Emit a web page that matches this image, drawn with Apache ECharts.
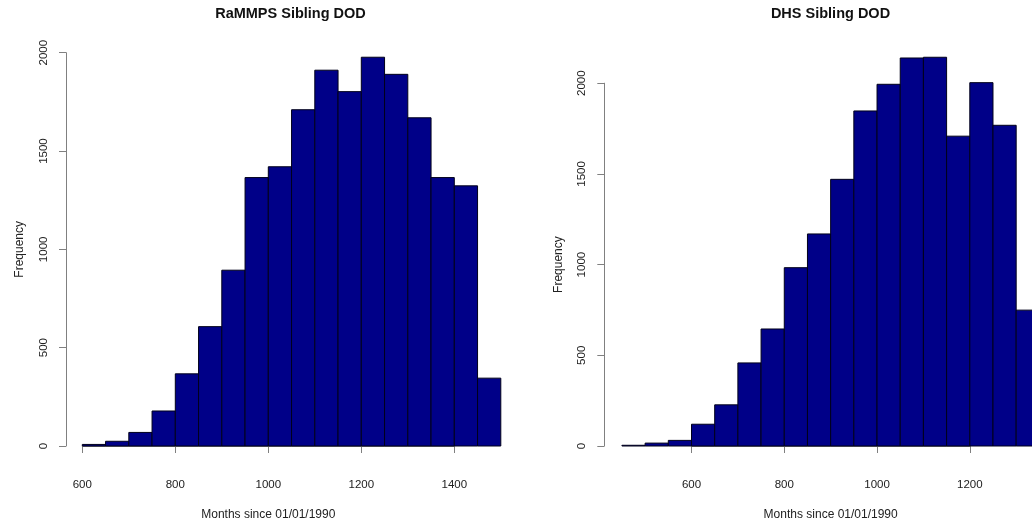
<!DOCTYPE html>
<html>
<head>
<meta charset="utf-8">
<script src="https://cdn.jsdelivr.net/npm/echarts@6/dist/echarts.min.js"></script>
<style>
html,body{margin:0;padding:0;background:#fff;}
#chart{width:1032px;height:526px;}
</style>
</head>
<body>
<div id="chart"></div>
<script>
// ---- data ----
const leftTitle = "RaMMPS Sibling DOD";
const rightTitle = "DHS Sibling DOD";
const xAxisLabel = "Months since 01/01/1990";
const yAxisLabel = "Frequency";

// bin breaks (lower edges), bin width 50
const leftBinStart = [600,650,700,750,800,850,900,950,1000,1050,1100,1150,1200,1250,1300,1350,1400,1450];
const leftCounts   = [8,24,69,178,367,607,894,1365,1420,1710,1911,1802,1977,1890,1669,1365,1323,345];

const rightBinStart = [450,500,550,600,650,700,750,800,850,900,950,1000,1050,1100,1150,1200,1250,1300];
const rightCounts   = [4,16,31,120,227,458,645,983,1169,1470,1847,1994,2139,2143,1708,2003,1768,749];

const binWidth = 50;
const leftXTicks = [600, 1400];   // first/last tick
const rightXTicks = [600, 1200];
const yTicks = [0, 2000];

function toData(starts, counts){
  return starts.map((s,i)=>[s, s+binWidth, counts[i]]);
}

const FONT = "Liberation Sans, Arial, Helvetica, sans-serif";
const BAR = "#000088";
const plain = v => String(v);

function renderBar(params, api){
  const x0 = api.value(0), x1 = api.value(1), y = api.value(2);
  const p0 = api.coord([x0, y]);
  const p1 = api.coord([x1, 0]);
  return {
    type: 'rect',
    shape: {x: p0[0], y: p0[1], width: p1[0]-p0[0], height: p1[1]-p0[1]},
    style: {fill: BAR, stroke: '#00001a', lineWidth: 1}
  };
}

function xAxisCfg(gridIndex, ticks){
  return {
    type: 'value', gridIndex: gridIndex,
    min: ticks[0], max: ticks[1], interval: 200,
    offset: 16,
    splitLine: {show:false},
    axisLine: {show:true, lineStyle:{color:'#808080', width:1}},
    axisTick: {show:true, length:7, lineStyle:{color:'#808080'}},
    axisLabel: {fontFamily: FONT, fontSize: 11.5, color:'#222', margin: 17, formatter: plain},
    name: xAxisLabel, nameLocation: 'middle', nameGap: 47,
    nameTextStyle: {fontFamily: FONT, fontSize: 12, color:'#222'}
  };
}
function yAxisCfg(gridIndex, offset){
  return {
    type: 'value', gridIndex: gridIndex,
    min: yTicks[0], max: yTicks[1], interval: 500,
    offset: offset,
    splitLine: {show:false},
    axisLine: {show:true, lineStyle:{color:'#808080', width:1}},
    axisTick: {show:true, length:7, lineStyle:{color:'#808080'}},
    axisLabel: {fontFamily: FONT, fontSize: 11.5, color:'#222', margin: 16, rotate: 90,
                align: 'center', verticalAlign: 'bottom', formatter: plain},
    name: yAxisLabel, nameLocation: 'middle', nameGap: 40, nameRotate: 90,
    nameTextStyle: {fontFamily: FONT, fontSize: 12, color:'#222'}
  };
}

const chart = echarts.init(document.getElementById('chart'), null, {renderer:'canvas'});
chart.setOption({
  animation: false,
  backgroundColor: '#fff',
  title: [
    {text: leftTitle, left: 290.5, top: 6, padding: 0, textAlign: 'center',
     textStyle:{fontFamily: FONT, fontSize: 14.5, fontWeight:'bold', color:'#111'}},
    {text: rightTitle, left: 830.5, top: 6, padding: 0, textAlign: 'center',
     textStyle:{fontFamily: FONT, fontSize: 14.5, fontWeight:'bold', color:'#111'}}
  ],
  grid: [
    {left: 82.3, width: 372, top: 52.7, height: 397.3, containLabel: false},
    {left: 691.5, width: 278.3, top: 83.2, height: 366.8, containLabel: false}
  ],
  xAxis: [xAxisCfg(0, leftXTicks), xAxisCfg(1, rightXTicks)],
  yAxis: [yAxisCfg(0, 16.3), yAxisCfg(1, 87.2)],
  series: [
    {type:'custom', xAxisIndex:0, yAxisIndex:0, clip:false,
     encode:{x:[0,1], y:2}, renderItem: renderBar, data: toData(leftBinStart, leftCounts)},
    {type:'custom', xAxisIndex:1, yAxisIndex:1, clip:false,
     encode:{x:[0,1], y:2}, renderItem: renderBar, data: toData(rightBinStart, rightCounts)}
  ]
});
</script>
</body>
</html>
